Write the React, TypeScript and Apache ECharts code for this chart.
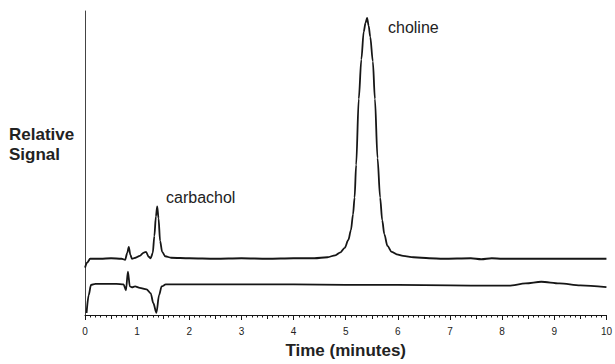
import React, { useEffect, useRef } from "react";
import * as echarts from "echarts";

// Time (minutes) and relative signal (arbitrary units, 0–308)
const upperTime = [0, 0.04, 0.1, 0.3, 0.5, 0.7, 0.77, 0.81, 0.84, 0.87, 0.9, 0.97, 1.05, 1.12, 1.17, 1.22, 1.26, 1.3, 1.33, 1.36, 1.385, 1.41, 1.44, 1.48, 1.54, 1.65, 2.0, 2.5, 3.0, 3.5, 4.0, 4.4, 4.65, 4.8, 4.9, 4.98, 5.05, 5.1, 5.14, 5.17, 5.2, 5.25, 5.3, 5.345, 5.38, 5.41, 5.44, 5.47, 5.52, 5.56, 5.61, 5.66, 5.7, 5.74, 5.8, 5.88, 5.98, 6.1, 6.3, 6.6, 6.87, 7.4, 7.6, 7.8, 8.0, 8.5, 9.0, 9.5, 10.0];
const upperSignal = [48, 53, 57, 57, 57.5, 57, 56, 63, 69, 61, 57, 58, 60, 63, 64, 59, 57.5, 63, 80, 100, 110, 98, 75, 64, 59.5, 58, 57.5, 57, 57.5, 57, 57.5, 57.5, 58.5, 60.5, 63.5, 68, 76, 86, 102, 119, 152, 219, 259, 287, 296, 301, 293, 282, 257, 219, 159, 119, 96, 82, 70, 64, 61.5, 60, 58.5, 57.5, 57, 57.5, 56.5, 57.5, 57, 57, 57, 57, 57];

const lowerTime = [0.03, 0.07, 0.115, 0.2, 0.4, 0.6, 0.74, 0.785, 0.823, 0.86, 0.9, 0.96, 1.05, 1.18, 1.26, 1.31, 1.37, 1.42, 1.47, 1.55, 2.0, 3.0, 4.0, 5.0, 6.0, 7.0, 7.8, 8.13, 8.45, 8.75, 9.1, 9.5, 10.0];
const lowerSignal = [2, 20, 30.5, 31.5, 31.5, 31.5, 31, 25, 44, 29, 28, 29, 27.5, 26, 22, 12, 2.3, 20, 29, 31, 31, 31, 31, 30.5, 30.5, 30, 29.7, 29.7, 32, 33.7, 32, 30, 28.3];

const xTicks = [0, 1, 2, 3, 4, 5, 6, 7, 8, 9, 10];
const peakNames = ["carbachol", "choline"];

const pair = (t: number[], v: number[]) => t.map((x, i) => [x, v[i]]);

export default function App() {
  const ref = useRef<HTMLDivElement>(null);
  useEffect(() => {
    if (!ref.current) return;
    const chart = echarts.init(ref.current, null, { renderer: "svg" });
    const ink = "#161616";
    chart.setOption({
      animation: false,
      grid: { left: 85, right: 7, top: 11, bottom: 45 },
      xAxis: [
        {
          type: "value",
          min: xTicks[0],
          max: xTicks[xTicks.length - 1],
          interval: 1,
          position: "bottom",
          axisLine: { show: true, lineStyle: { color: ink, width: 1 } },
          axisTick: { show: true, length: 5, lineStyle: { color: ink } },
          minorTick: { show: true, splitNumber: 10, length: 2.5, lineStyle: { color: ink } },
          splitLine: { show: false },
          axisLabel: { color: "#222", fontSize: 10, fontFamily: "Liberation Sans", margin: 11 },
          name: "Time (minutes)",
          nameLocation: "middle",
          nameGap: 27,
          nameTextStyle: { fontSize: 17, fontWeight: "bold", color: "#222", fontFamily: "Liberation Sans" },
        },
        {
          type: "value",
          min: 0,
          max: 10,
          interval: 0.5,
          position: "bottom",
          axisLine: { show: false },
          axisTick: { show: true, length: 4, lineStyle: { color: ink } },
          axisLabel: { show: false },
          splitLine: { show: false },
        },
      ],
      yAxis: {
        type: "value",
        min: 0,
        max: 308,
        axisLine: { show: true, lineStyle: { color: "#444", width: 1 } },
        axisTick: { show: false },
        axisLabel: { show: false },
        splitLine: { show: false },
      },
      series: [
        {
          type: "line",
          xAxisIndex: 0,
          data: pair(upperTime, upperSignal),
          showSymbol: false,
          smooth: 0.3,
          smoothMonotone: "x",
          lineStyle: { color: ink, width: 1.8 },
        },
        {
          type: "line",
          xAxisIndex: 0,
          data: pair(lowerTime, lowerSignal),
          showSymbol: false,
          smooth: 0.3,
          smoothMonotone: "x",
          lineStyle: { color: ink, width: 1.8 },
        },
      ],
      graphic: [
        {
          type: "text",
          left: 9,
          top: 124,
          style: {
            text: "Relative\nSignal",
            fontSize: 17,
            fontWeight: "bold",
            fontFamily: "Liberation Sans",
            fill: "#222",
            align: "center",
            lineHeight: 20,
            width: 68,
          },
        },
        {
          type: "text",
          x: 166,
          y: 189,
          style: { text: peakNames[0], fontSize: 16, fontFamily: "Liberation Sans", fill: "#222" },
        },
        {
          type: "text",
          x: 388,
          y: 19,
          style: { text: peakNames[1], fontSize: 16, fontFamily: "Liberation Sans", fill: "#222" },
        },
      ],
    });
    return () => chart.dispose();
  }, []);
  return <div ref={ref} style={{ position: "absolute", left: 0, top: 0, width: 615, height: 364 }} />;
}
